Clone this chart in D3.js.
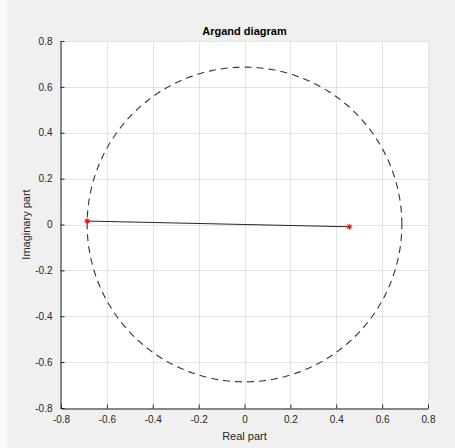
<!DOCTYPE html>
<html>
<head>
<meta charset="utf-8">
<script src="https://cdn.jsdelivr.net/npm/d3@7"></script>
<style>
  html, body { margin: 0; padding: 0; background: #f0f0f0; }
  svg { display: block; }
</style>
</head>
<body>
<svg id="chart" width="455" height="448"></svg>
<script>
// Complex numbers plotted on the Argand plane: [real, imaginary]
const points = [[-0.686, 0.015], [0.457, -0.010]];
// Radius of the reference circle centred at the origin
const circleRadius = 0.686;
const xTicks = [-0.8, -0.6, -0.4, -0.2, 0, 0.2, 0.4, 0.6, 0.8];
const yTicks = [-0.8, -0.6, -0.4, -0.2, 0, 0.2, 0.4, 0.6, 0.8];
const titleText = "Argand diagram";
const xLabelText = "Real part";
const yLabelText = "Imaginary part";

const svg = d3.select("#chart");
const W = 455, H = 448;
const box = { left: 61, top: 41, right: 428, bottom: 408 };
const font = "'Liberation Sans', Arial, Helvetica, sans-serif";
const axisColor = "#262626";
const fmt = d => d3.format("~g")(d).replace("\u2212", "-");

// figure background with lighter left margin
svg.append("rect").attr("width", W).attr("height", H).attr("fill", "#f0f0f0");
svg.append("rect").attr("width", 7).attr("height", H).attr("fill", "#fafafa");

const x = d3.scaleLinear().domain([-0.8, 0.8]).range([box.left, box.right]);
const y = d3.scaleLinear().domain([-0.8, 0.8]).range([box.bottom, box.top]);

// plot area
svg.append("rect")
  .attr("x", box.left).attr("y", box.top)
  .attr("width", box.right - box.left).attr("height", box.bottom - box.top)
  .attr("fill", "#ffffff");

// grid
const grid = svg.append("g").attr("stroke", "#e3e3e3").attr("stroke-width", 1);
xTicks.forEach(t => {
  grid.append("line")
    .attr("x1", Math.round(x(t)) + 0.5).attr("x2", Math.round(x(t)) + 0.5)
    .attr("y1", box.top).attr("y2", box.bottom);
});
yTicks.forEach(t => {
  grid.append("line")
    .attr("y1", Math.round(y(t)) + 0.5).attr("y2", Math.round(y(t)) + 0.5)
    .attr("x1", box.left).attr("x2", box.right);
});

// circle of radius |z|
const circle = d3.range(0, 361, 1).map(a => [circleRadius * Math.cos(a * Math.PI / 180), circleRadius * Math.sin(a * Math.PI / 180)]);
const line = d3.line().x(d => x(d[0])).y(d => y(d[1]));
svg.append("path")
  .attr("d", line(circle))
  .attr("fill", "none")
  .attr("stroke", "#333333")
  .attr("stroke-width", 1.1)
  .attr("stroke-dasharray", "7,5");

// segment joining the points
svg.append("path")
  .attr("d", line(points))
  .attr("fill", "none")
  .attr("stroke", "#262626")
  .attr("stroke-width", 1);

// asterisk markers
const star = svg.append("g").attr("stroke", "#ff0000").attr("stroke-width", 1);
points.forEach(p => {
  const cx = x(p[0]), cy = y(p[1]), r = 3;
  [0, 45, 90, 135].forEach(a => {
    const dx = r * Math.cos(a * Math.PI / 180), dy = r * Math.sin(a * Math.PI / 180);
    star.append("line")
      .attr("x1", cx - dx).attr("y1", cy - dy)
      .attr("x2", cx + dx).attr("y2", cy + dy);
  });
  svg.append("circle").attr("cx", cx).attr("cy", cy).attr("r", 1.5).attr("fill", "#ff0000");
});

// axes
const xAxis = d3.axisBottom(x).tickValues(xTicks).tickSizeInner(-4).tickSizeOuter(0)
  .tickPadding(7).tickFormat(fmt);
const yAxis = d3.axisLeft(y).tickValues(yTicks).tickSizeInner(-4).tickSizeOuter(0)
  .tickPadding(8).tickFormat(fmt);

const gx = svg.append("g").attr("transform", `translate(0,${box.bottom + 0.5})`).call(xAxis);
const gy = svg.append("g").attr("transform", `translate(${box.left - 0.5},0)`).call(yAxis);
[gx, gy].forEach(g => {
  g.select(".domain").attr("stroke", axisColor);
  g.selectAll(".tick line").attr("stroke", axisColor);
  g.selectAll(".tick text").attr("fill", axisColor).attr("font-family", font).attr("font-size", 10);
});

// title and labels
svg.append("text")
  .attr("x", (box.left + box.right) / 2).attr("y", 35)
  .attr("text-anchor", "middle")
  .attr("font-family", font).attr("font-size", 11).attr("font-weight", "bold")
  .attr("fill", "#000").text(titleText);

svg.append("text")
  .attr("x", (box.left + box.right) / 2).attr("y", 440)
  .attr("text-anchor", "middle")
  .attr("font-family", font).attr("font-size", 11)
  .attr("fill", axisColor).text(xLabelText);

svg.append("text")
  .attr("transform", `translate(30,${(box.top + box.bottom) / 2}) rotate(-90)`)
  .attr("text-anchor", "middle")
  .attr("font-family", font).attr("font-size", 11)
  .attr("fill", axisColor).text(yLabelText);
</script>
</body>
</html>
